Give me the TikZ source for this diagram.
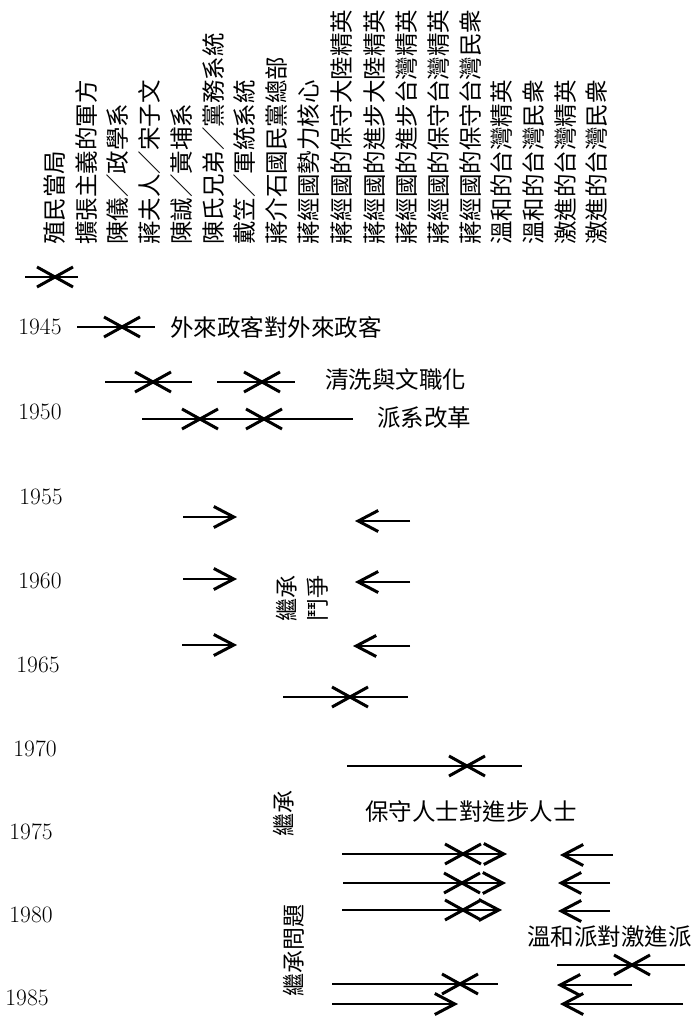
\documentclass[tikz,border=0pt]{standalone}
\usepackage{fontspec}
\newfontfamily\cjk{Noto Sans CJK TC}
\usetikzlibrary{arrows.meta}
\tikzset{
  hdr/.style={rotate=90,anchor=west,inner sep=0pt,font=\cjk\fontsize{23.5}{23.5}\selectfont},
  lbl/.style={anchor=west,inner sep=0pt,font=\cjk\fontsize{23.5}{23.5}\selectfont},
  vlbl/.style={rotate=90,inner sep=0pt,align=center,font=\cjk\fontsize{23}{31}\selectfont},
  yr/.style={inner sep=0pt,font=\fontsize{23.5}{23.5}\selectfont},
  ln/.style={line width=2.8pt},
  hd/.style={line width=2.8pt,-{Straight Barb[length=20pt,width=21pt,line width=3pt]}},
  clash/.pic={\draw[line width=3pt] (-18,-10) -- (18,10) (-18,10) -- (18,-10);},
}
\begin{document}
\begin{tikzpicture}[x=1pt,y=-1pt]
\useasboundingbox (0,0) rectangle (693,1019);
% column headers
\node[hdr] (h1) at (55,245) {殖民當局};
\node[hdr] (h2) at (87,245) {擴張主義的軍方};
\node[hdr] (h3) at (118,245) {陳儀／政學系};
\node[hdr] (h4) at (150,245) {蔣夫人／宋子文};
\node[hdr] (h5) at (182,245) {陳誠／黃埔系};
\node[hdr] (h6) at (214,245) {陳氏兄弟／黨務系統};
\node[hdr] (h7) at (245,245) {戴笠／軍統系統};
\node[hdr] (h8) at (277,245) {蔣介石國民黨總部};
\node[hdr] (h9) at (309,245) {蔣經國勢力核心};
\node[hdr] (h10) at (342,245) {蔣經國的保守大陸精英};
\node[hdr] (h11) at (375,245) {蔣經國的進步大陸精英};
\node[hdr] (h12) at (407,245) {蔣經國的進步台灣精英};
\node[hdr] (h13) at (439,245) {蔣經國的保守台灣精英};
\node[hdr] (h14) at (471,245) {蔣經國的保守台灣民衆};
\node[hdr] (h15) at (502,245) {溫和的台灣精英};
\node[hdr] (h16) at (534,245) {溫和的台灣民衆};
\node[hdr] (h17) at (566,245) {激進的台灣精英};
\node[hdr] (h18) at (597,245) {激進的台灣民衆};
% years
\node[yr] (y45) at (40,327) {1945};
\node[yr] (y50) at (40,412) {1950};
\node[yr] (y55) at (41,497) {1955};
\node[yr] (y60) at (40,581) {1960};
\node[yr] (y65) at (38,665) {1965};
\node[yr] (y70) at (35,749) {1970};
\node[yr] (y75) at (31,832) {1975};
\node[yr] (y80) at (31,915) {1980};
\node[yr] (y85) at (27,998) {1985};
% labels
\node[lbl] (t1) at (170,327) {外來政客對外來政客};
\node[lbl] (t2) at (325,380) {清洗與文職化};
\node[lbl] (t3) at (377,418) {派系改革};
\node[lbl] (t4) at (365,812) {保守人士對進步人士};
\node[lbl] (t5) at (527,937) {溫和派對激進派};
\node[vlbl] (v1) at (302,598) {繼承\\鬥爭};
\node[vlbl] (v2) at (284,813) {繼承};
\node[vlbl] (v3) at (294,950) {繼承問題};
% ---- connectors
% c. 1940
\coordinate (a0) at (25,277); \coordinate (b0) at (78,277); \coordinate (x0) at (55,277);
\draw[ln] (a0) -- (b0); \pic at (x0) {clash};
% 1945
\coordinate (a1) at (77,327); \coordinate (b1) at (155,327); \coordinate (x1) at (122,327);
\draw[ln] (a1) -- (b1); \pic at (x1) {clash};
% 1948
\coordinate (a2) at (105,382); \coordinate (b2) at (192,382); \coordinate (x2) at (153,382);
\draw[ln] (a2) -- (b2); \pic at (x2) {clash};
\coordinate (a3) at (217,382); \coordinate (b3) at (295,382); \coordinate (x3) at (262,382);
\draw[ln] (a3) -- (b3); \pic at (x3) {clash};
% 1950
\coordinate (a4) at (142,419); \coordinate (b4) at (353,419);
\coordinate (x4) at (200,419); \coordinate (x5) at (264,419);
\draw[ln] (a4) -- (b4); \pic at (x4) {clash}; \pic at (x5) {clash};
% 1955-1965
\coordinate (r1s) at (183,517); \coordinate (r1e) at (237,517);
\coordinate (l1s) at (410,521); \coordinate (l1e) at (355,521);
\coordinate (r2s) at (183,579); \coordinate (r2e) at (237,579);
\coordinate (l2s) at (410,582); \coordinate (l2e) at (355,582);
\coordinate (r3s) at (182,645); \coordinate (r3e) at (237,645);
\coordinate (l3s) at (410,646); \coordinate (l3e) at (353,646);
\draw[hd] (r1s) -- (r1e); \draw[hd] (l1s) -- (l1e);
\draw[hd] (r2s) -- (r2e); \draw[hd] (l2s) -- (l2e);
\draw[hd] (r3s) -- (r3e); \draw[hd] (l3s) -- (l3e);
\coordinate (a6) at (283,697); \coordinate (b6) at (408,697); \coordinate (x6) at (350,697);
\draw[ln] (a6) -- (b6); \pic at (x6) {clash};
% 1970
\coordinate (a7) at (347,766); \coordinate (b7) at (522,766); \coordinate (x7) at (467,766);
\draw[ln] (a7) -- (b7); \pic at (x7) {clash};
% 1975-1980 rows
\coordinate (sA) at (342,854); \coordinate (eA) at (507,854); \coordinate (xA) at (463,854);
\draw[hd] (sA) -- (eA); \pic at (xA) {clash};
\coordinate (sB) at (343,883); \coordinate (eB) at (506,883); \coordinate (xB) at (462,883);
\draw[hd] (sB) -- (eB); \pic at (xB) {clash};
\coordinate (sC) at (342,910); \coordinate (eC) at (502,910); \coordinate (xC) at (463,910);
\draw[hd] (sC) -- (eC); \pic at (xC) {clash};
\coordinate (sD) at (332,984); \coordinate (eD) at (498,984); \coordinate (xD) at (460,984);
\draw[ln] (sD) -- (eD); \pic at (xD) {clash};
\coordinate (sE) at (332,1004); \coordinate (eE) at (458,1004);
\draw[hd] (sE) -- (eE);
% right side
\coordinate (pA) at (613,855); \coordinate (qA) at (560,855);
\coordinate (pB) at (610,883); \coordinate (qB) at (558,883);
\coordinate (pC) at (610,911); \coordinate (qC) at (558,911);
\draw[hd] (pA) -- (qA); \draw[hd] (pB) -- (qB); \draw[hd] (pC) -- (qC);
\coordinate (aR) at (557,965); \coordinate (bR) at (685,965); \coordinate (xR) at (632,965);
\draw[ln] (aR) -- (bR); \pic at (xR) {clash};
\coordinate (pE) at (632,985); \coordinate (qE) at (557,985);
\coordinate (pF) at (683,1004); \coordinate (qF) at (560,1004);
\draw[hd] (pE) -- (qE); \draw[hd] (pF) -- (qF);
\end{tikzpicture}
\end{document}
